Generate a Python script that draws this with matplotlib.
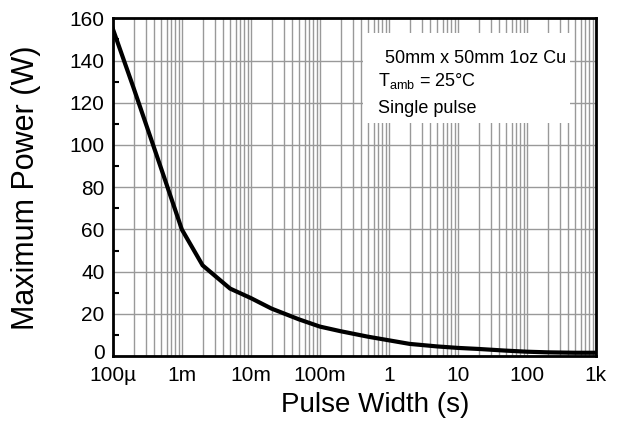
import matplotlib.pyplot as plt
import numpy as np
from matplotlib.patches import Rectangle
from matplotlib.ticker import FixedLocator, NullFormatter, LogLocator
from matplotlib.transforms import ScaledTranslation

plt.rcParams['font.family'] = ['Liberation Sans', 'DejaVu Sans']
plt.rcParams['mathtext.fontset'] = 'custom'
plt.rcParams['mathtext.rm'] = 'Liberation Sans'

# pulse width (s) vs maximum power (W)
pulse_width = [1e-4, 2e-4, 5e-4, 1e-3, 2e-3, 5e-3, 1e-2, 2e-2, 5e-2, 1e-1,
               2e-1, 5e-1, 1, 2, 5, 10, 20, 50, 100, 200, 500, 1000]
max_power = [155, 127, 89, 60, 43, 32, 27.5, 22.5, 17.4, 14,
             11.8, 9.2, 7.5, 5.8, 4.6, 3.9, 3.4, 2.6, 2.1, 1.8, 1.6, 1.6]

x_ticks = [1e-4, 1e-3, 1e-2, 1e-1, 1, 10, 100, 1000]
x_labels = ['100µ', '1m', '10m', '100m', '1', '10', '100', '1k']
y_ticks = [0, 20, 40, 60, 80, 100, 120, 140, 160]

fig = plt.figure(figsize=(6.2, 4.26), dpi=100)
ax = fig.add_axes([0.182, 0.164, 0.779, 0.793])

ax.plot(pulse_width, max_power, color='black', lw=3, solid_joinstyle='miter', zorder=3)

ax.set_xscale('log')
ax.set_xlim(1e-4, 1e3)
ax.set_ylim(0, 160)
ax.set_xticks(x_ticks)
ax.set_xticklabels(x_labels)
ax.xaxis.set_minor_locator(LogLocator(base=10, subs=np.arange(2, 10)))
ax.xaxis.set_minor_formatter(NullFormatter())
ax.set_yticks(y_ticks)
ax.yaxis.set_minor_locator(FixedLocator(np.arange(10, 160, 20)))

ax.set_axisbelow(True)
ax.grid(True, which='major', color='#999999', lw=1)
ax.grid(True, which='minor', axis='x', color='#999999', lw=1)

ax.tick_params(axis='x', which='both', length=0, labelsize=15, pad=7)
ax.tick_params(axis='y', which='major', direction='in', length=0, labelsize=15, pad=6)
ax.tick_params(axis='y', which='minor', direction='in', length=4, width=1.5)

# nudge the "0" up a little, like the original
zero = ax.get_yticklabels()[0]
zero.set_transform(zero.get_transform() + ScaledTranslation(0, 3 / 72, fig.dpi_scale_trans))

for s in ax.spines.values():
    s.set_linewidth(2)
    s.set_zorder(4)

fig.text(0.605, 0.049, 'Pulse Width (s)', fontsize=20, ha='center', va='center')
fig.text(0.042, 0.559, 'Maximum Power (W)', fontsize=22, ha='center', va='center',
         rotation=90)

# white box behind the note
ax.add_patch(Rectangle((0.518, 0.69), 0.428, 0.267, transform=ax.transAxes,
                       facecolor='white', edgecolor='none', zorder=1))
ax.text(0.563, 0.882, '50mm x 50mm 1oz Cu', transform=ax.transAxes,
        fontsize=13, va='center', ha='left', zorder=2)
ax.text(0.549, 0.814, r'T$_{\mathrm{amb}}$ = 25°C', transform=ax.transAxes,
        fontsize=13, va='center', ha='left', zorder=2)
ax.text(0.549, 0.732, 'Single pulse', transform=ax.transAxes,
        fontsize=13, va='center', ha='left', zorder=2)

fig.savefig('out.png', dpi=100)
